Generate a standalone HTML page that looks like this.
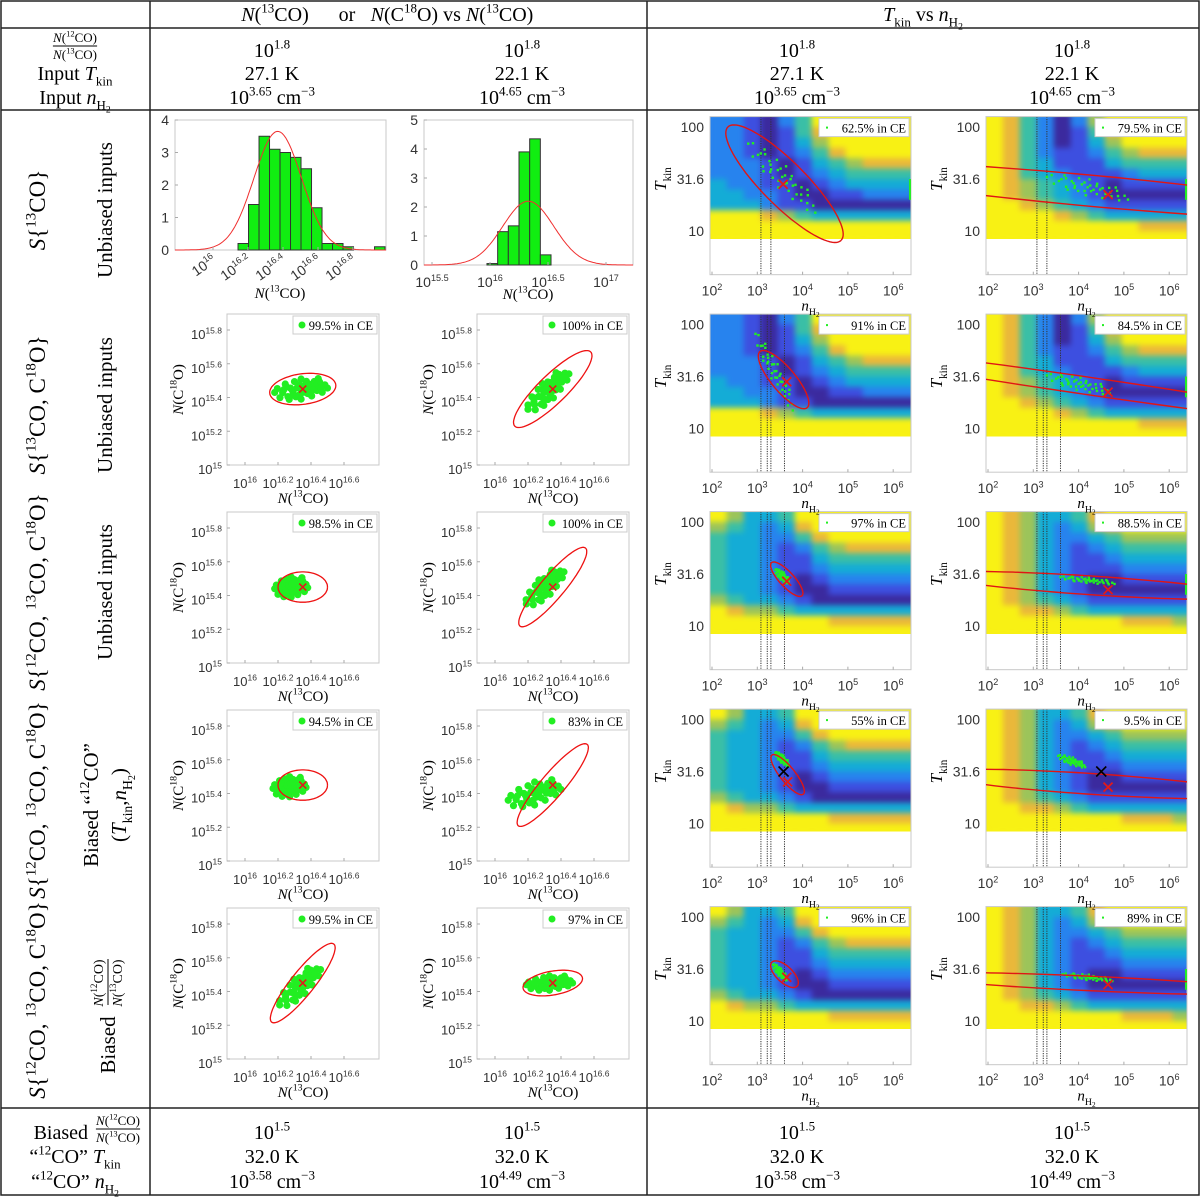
<!DOCTYPE html>
<html><head><meta charset="utf-8"><style>
html,body{margin:0;padding:0;background:#fff}
svg{display:block}
text{font-family:"Liberation Serif",serif;fill:#000}
.tk{font-family:"Liberation Sans",sans-serif;fill:#333}
</style></head><body>
<svg id="fig" width="1200" height="1197" viewBox="0 0 1200 1197" xmlns="http://www.w3.org/2000/svg">
<defs>
<filter id="smooth" x="0" y="0" width="1" height="1" color-interpolation-filters="sRGB">
<feGaussianBlur stdDeviation="3"/>
<feComponentTransfer><feFuncA type="discrete" tableValues="0 1 1 1"/></feComponentTransfer>
</filter>
</defs>
<g id="table" stroke="#222" stroke-width="1.5" fill="none">
<rect x="1" y="1" width="1198" height="1194"/>
<line x1="1" y1="28" x2="1199" y2="28"/>
<line x1="1" y1="110" x2="1199" y2="110"/>
<line x1="1" y1="1108" x2="1199" y2="1108"/>
<line x1="150" y1="1" x2="150" y2="1195"/>
<line x1="647" y1="1" x2="647" y2="1195"/>
</g>
</svg>
<script>
// ---------- data ----------
const inTop = ['1.8','1.8','1.8','1.8'];
const inT = ['27.1 K','22.1 K','27.1 K','22.1 K'];
const inN = ['3.65','4.65','3.65','4.65'];
const outR = ['1.5','1.5','1.5','1.5'];
const outT = ['32.0 K','32.0 K','32.0 K','32.0 K'];
const outN = ['3.58','4.49','3.58','4.49'];
const colCenters = [272,522,797,1072];

const hist1Bins = [0.2,1.4,3.5,3.1,3.0,2.85,2.5,1.3,0.2,0.2,0.1,0,0,0.1];
const hist1Start = 16.143, hist1Width = 0.06;
const hist1Fit = [3.65,16.37,0.136];
const hist2Bins = [0.05,1.15,1.35,3.9,4.35,0.35];
const hist2Start = 15.974, hist2Width = 0.092;
const hist2Fit = [2.2,16.33,0.22];
const hist1Ticks = [16,16.2,16.4,16.6,16.8];
const hist2Ticks = [15.5,16,16.5,17];

const scXTicks = [16,16.2,16.4,16.6];
const scYTicks = [15,15.2,15.4,15.6,15.8];
const baseOff = [[0,0],[0.3,0.1],[-0.4,0.2],[0.6,-0.3],[-0.7,-0.1],[0.2,0.6],[-0.2,-0.6],[0.9,0.1],[-0.9,0.3],[0.5,0.5],[-0.5,-0.5],[0.1,-0.3],[-0.1,0.4],[0.7,0.4],[-0.6,0.6],[0.4,-0.7],[-0.3,-0.2],[0.8,-0.5],[-0.8,-0.5],[0,0.85],[0,-0.85],[0.35,0.3],[-0.35,0.05],[0.55,0.05],[-0.15,0.15],[0.15,-0.1],[-0.55,0.35],[0.25,-0.45],[-0.25,0.7],[0.65,0.7],[-0.45,-0.75],[1,-0.2],[-1,0],[0.45,-0.2],[-0.05,-0.45],[0.05,0.25],[0.75,-0.1],[-0.65,0.15],[0.2,0.35],[-0.3,-0.4]];
const scLegend = [['99.5','100'],['98.5','100'],['94.5','83'],['99.5','97']];
const scCloudC = [[[16.34,15.45],[16.32,15.44]],[[16.28,15.45],[16.3,15.45]],[[16.27,15.44],[16.24,15.4]],[[16.33,15.43],[16.33,15.45]]];
const scCloudA = [[[0.16,0.02],[0.12,0.11]],[[0.1,0.01],[0.11,0.1]],[[0.1,0.01],[0.16,0.04]],[[0.12,0.11],[0.14,0.01]]];
const scCloudB = [[[0,0.07],[-0.04,0.05]],[[0,0.07],[-0.04,0.05]],[[0,0.07],[0,0.08]],[[-0.04,0.05],[0,0.05]]];
const scEllC = [16.35,15.45];
const scEllU = [[[0.2,0.025],[0.23,0.22]],[[0.15,0],[0.2,0.23]],[[0.15,0],[0.21,0.24]],[[0.19,0.23],[0.18,0.03]]];
const scEllV = [[[-0.01,0.09],[-0.06,0.06]],[[0,0.09],[-0.05,0.05]],[[0,0.09],[-0.05,0.05]],[[-0.05,0.05],[-0.01,0.07]]];

const hmXTicks = [2,3,4,5,6];
const hmYTicks = [[2,'100'],[1.5,'31.6'],[1,'10']];
const palette = ['#3b2a9e','#3d4fe0','#2783ee','#14acd6','#3abfa6','#9cc45a','#eab83a','#f8f114'];
const mapA = [[2,2,1,0,2,4,7,7,7,7,7,7],[2,2,1,0,1,4,6,7,7,7,7,7],[2,2,1,0,1,3,5,7,7,7,7,7],[2,2,1,0,1,2,4,6,7,7,7,7],[2,2,2,1,0,1,3,4,5,6,6,6],[2,2,2,1,0,1,2,3,4,4,4,4],[3,2,2,1,1,0,1,2,3,3,3,3],[3,3,2,2,1,0,0,1,1,2,2,2],[3,3,3,2,1,1,0,0,0,0,0,0],[7,7,7,6,5,4,3,3,3,3,3,3],[7,7,7,7,7,7,7,7,7,7,7,7],[7,7,7,7,7,7,7,7,7,7,7,7]];
const mapB = [[7,6,4,2,0,2,5,7,7,7,7,7],[7,6,4,2,0,1,4,6,7,7,7,7],[7,6,4,2,0,1,3,5,7,7,7,7],[7,6,4,2,1,1,2,4,5,6,6,6],[7,6,4,3,1,1,1,3,4,4,4,4],[7,6,4,3,2,1,1,1,2,3,3,3],[7,6,5,4,3,2,1,0,1,1,1,1],[7,6,5,4,3,2,1,0,0,0,0,0],[7,7,6,5,4,3,2,1,1,1,1,1],[7,7,7,7,6,5,4,3,3,3,3,3],[7,7,7,7,7,7,7,7,7,6,6,6],[7,7,7,7,7,7,7,7,7,7,7,7]];
const mapC = [[7,5,3,3,4,7,7,7,7,7,7,7],[5,4,3,2,3,6,7,7,7,7,7,7],[4,3,3,2,2,4,6,7,7,7,7,7],[4,3,3,2,1,2,4,5,6,6,6,6],[4,3,3,2,1,1,3,4,4,4,4,4],[4,3,3,2,1,1,2,3,3,3,3,3],[4,3,3,2,1,0,1,2,2,2,2,2],[4,3,3,2,1,0,0,1,1,1,1,1],[5,4,3,3,2,1,0,0,0,0,0,0],[7,6,5,5,4,3,3,3,3,3,3,3],[7,7,7,7,7,7,7,6,6,6,6,6],[7,7,7,7,7,7,7,7,7,7,7,7]];
const mapD = [[7,6,5,3,3,4,6,7,7,7,7,7],[7,6,5,3,2,3,5,6,7,7,7,7],[7,6,5,3,2,2,3,4,5,5,5,5],[7,6,5,3,2,1,2,3,4,4,4,4],[7,6,5,3,2,1,1,2,3,3,3,3],[7,6,5,3,2,1,1,1,2,2,2,2],[7,6,5,3,2,1,0,0,1,1,1,1],[7,6,5,3,2,1,0,0,0,0,0,0],[7,6,5,4,3,2,1,1,1,1,1,1],[7,7,6,6,5,4,3,3,3,3,3,3],[7,7,7,7,7,7,7,7,6,6,6,5],[7,7,7,7,7,7,7,7,7,7,7,7]];
const hmLegend = [['62.5','79.5'],['91','84.5'],['97','88.5'],['55','9.5'],['96','89']];
const hmVLines = [[3.08,3.3],[3.08,3.22,3.3,3.6],[3.08,3.22,3.3,3.6],[3.08,3.22,3.3,3.6],[3.08,3.22,3.3,3.6]];
const hmCloudC = [[[3.55,1.52],[4.2,1.42]],[[3.38,1.55],[4.0,1.43]],[[3.55,1.48],[4.2,1.44]],[[3.55,1.62],[3.85,1.6]],[[3.5,1.47],[4.2,1.42]]];
const hmCloudA = [[[0.75,-0.32],[0.9,-0.1]],[[0.42,-0.36],[0.7,-0.08]],[[0.15,-0.06],[0.6,-0.03]],[[0.15,-0.06],[0.3,-0.05]],[[0.15,-0.07],[0.55,-0.03]]];
const hmCloudB = [[[0.1,0.12],[0.05,0.09]],[[0.08,0.08],[0.05,0.07]],[[0.04,0.04],[0.03,0.03]],[[0.03,0.04],[0.03,0.04]],[[0.03,0.04],[0.03,0.03]]];
const hmEllC = [[[3.6,1.455],[4.2,1.39]],[[3.58,1.47],[4.2,1.41]],[[3.65,1.45],[4.3,1.39]],[[3.67,1.47],[4.3,1.38]],[[3.6,1.45],[4.3,1.36]]];
const hmEllU = [[[1.25,-0.545],[6,-0.24]],[[0.52,-0.27],[6,-0.38]],[[0.35,-0.15],[3.5,-0.1]],[[0.36,-0.18],[3.5,-0.1]],[[0.3,-0.1],[4,-0.08]]];
const hmEllV = [[[0.34,0.15],[0,0.15]],[[0.2,0.074],[0,0.085]],[[0.07,0.07],[0,0.09]],[[0.08,0.07],[0,0.1]],[[0.06,0.08],[0,0.07]]];
const hmRedX = [[[3.57,1.45],[4.65,1.35]],[[3.65,1.45],[4.65,1.35]],[[3.65,1.43],[4.65,1.35]],[[3.67,1.4],[4.65,1.35]],[[3.65,1.42],[4.65,1.35]]];
const hmBlackX = [null,null,null,[[3.58,1.5],[4.5,1.5]],null];
const hmGreenBar = [[true,true],[false,true],[false,true],[false,false],[false,true]];

// ---------- helpers ----------
const NS='http://www.w3.org/2000/svg';
const svg=document.getElementById('fig');
function mk(tag,attrs,parent){const e=document.createElementNS(NS,tag);for(const k in attrs)e.setAttribute(k,attrs[k]);(parent||svg).appendChild(e);return e;}
function rich(t,fs,parts){
  let cur=0;
  parts.forEach(([s,m])=>{
    const sp=document.createElementNS(NS,'tspan');
    let off=0,size=fs;
    if(m==='p'){off=-0.42*fs;size=0.65*fs;}
    else if(m==='b'){off=0.28*fs;size=0.65*fs;}
    else if(m==='bb'){off=0.42*fs;size=0.48*fs;}
    if(m==='i')sp.setAttribute('font-style','italic');
    sp.setAttribute('font-size',size.toFixed(1));
    const d=off-cur; if(d!==0)sp.setAttribute('dy',d.toFixed(1));
    cur=off; sp.textContent=s; t.appendChild(sp);
  });
  return t;
}
function txt(parent,x,y,fs,anchor,parts,extra){
  const a={x:x,y:y,'font-size':fs,'text-anchor':anchor||'middle'};
  for(const k in (extra||{}))a[k]=extra[k];
  return rich(mk('text',a,parent),fs,parts);
}
function rtxt(parent,x,y,fs,parts,extra){
  const a={transform:`translate(${x},${y}) rotate(-90)`,'font-size':fs,'text-anchor':'middle'};
  for(const k in (extra||{}))a[k]=extra[k];
  return rich(mk('text',a,parent),fs,parts);
}
const nH2=[['n','i'],['H','b'],['2','bb']];
const tKin=[['T','i'],['kin','b']];

// ---------- header ----------
const hd=mk('g',{});


txt(hd,275,21,20,'middle',[['N','i'],['(',''],['13','p'],['CO)','']]);
txt(hd,347,21,20,'middle',[['or','']]);
txt(hd,452,21,20,'middle',[['N','i'],['(C',''],['18','p'],['O) vs ',''],['N','i'],['(',''],['13','p'],['CO)','']]);
txt(hd,923,21,20,'middle',tKin.concat([[' vs ','']]).concat(nH2));

const hv=mk('g',{});


function ratioLabel(parent,x,y,fs){
  const g=mk('g',{},parent);
  txt(g,x,y,fs,'middle',[['N','i'],['(',''],['12','p'],['CO)','']]);
  mk('line',{x1:x-fs*1.7,y1:y+4,x2:x+fs*1.7,y2:y+4,stroke:'#000','stroke-width':'1'},g);
  txt(g,x,y+fs+4,fs,'middle',[['N','i'],['(',''],['13','p'],['CO)','']]);
  return g;
}
ratioLabel(hv,75,42,13);
txt(hv,75,80,20,'middle',[['Input ','']].concat(tKin));
txt(hv,75,104,20,'middle',[['Input ','']].concat(nH2));
for(let i=0;i<4;i++){
  const x=colCenters[i];
  txt(hv,x,57,20,'middle',[['10',''],[inTop[i],'p']]);
  txt(hv,x,80,20,'middle',[[inT[i],'']]);
  txt(hv,x,104,20,'middle',[['10',''],[inN[i],'p'],[' cm',''],['−3','p']]);
}
const fv=mk('g',{});


txt(fv,88,1139,20,'end',[['Biased','']]);
ratioLabel(fv,118,1125,13);
txt(fv,75,1163,20,'middle',[['“',''],['12','p'],['CO” ','']].concat(tKin));
txt(fv,75,1188,20,'middle',[['“',''],['12','p'],['CO” ','']].concat(nH2));
for(let i=0;i<4;i++){
  const x=colCenters[i];
  txt(fv,x,1139,20,'middle',[['10',''],[outR[i],'p']]);
  txt(fv,x,1163,20,'middle',[[outT[i],'']]);
  txt(fv,x,1188,20,'middle',[['10',''],[outN[i],'p'],[' cm',''],['−3','p']]);
}

// ---------- row labels ----------
const rl=mk('g',{});


const sSets=[['13CO'],['13CO','C18O'],['12CO','13CO','C18O'],['12CO','13CO','C18O'],['12CO','13CO','C18O']];
const sY=[210,405,592,800,1000];
sSets.forEach((set,r)=>{
  const parts=[['S','i'],['{','']];
  set.forEach((s,j)=>{ if(j)parts.push([', ','']);
    if(s==='C18O'){parts.push(['C',''],['18','p'],['O',''] );}
    else{parts.push([s.slice(0,2),'p'],['CO','']);}
  });
  parts.push(['}','']);
  rtxt(rl,45,sY[r],23,parts);
});
for(let r=0;r<3;r++)rtxt(rl,112,sY[r],21,[['Unbiased inputs','']]);
rtxt(rl,98,805,21,[['Biased “',''],['12','p'],['CO”','']]);
rtxt(rl,126,805,21,[['(','']].concat(tKin,[[',','']],nH2,[[')','']]));
{ const g=mk('g',{transform:'translate(108,1005) rotate(-90)'},rl);
  txt(g,-40,7,21,'middle',[['Biased','']]);
  txt(g,22,-5,14,'middle',[['N','i'],['(',''],['12','p'],['CO)','']]);
  mk('line',{x1:0,y1:0,x2:46,y2:0,stroke:'#000'},g);
  txt(g,22,14,14,'middle',[['N','i'],['(',''],['13','p'],['CO)','']]);
}

// ---------- axes helpers ----------
function frame(g,x0,y0,x1,y1){mk('rect',{x:x0,y:y0,width:x1-x0,height:y1-y0,fill:'none',stroke:'#c8c8c8','stroke-width':'1'},g);}
function n13Label(g,x,y,fs){return txt(g,x,y,fs,'middle',[['N','i'],['(',''],['13','p'],['CO)','']],{fill:'#444'});}
function pow(g,x,y,exp,anchor,fs){return txt(g,x,y,fs,anchor,[['10',''],[exp,'p']],{'class':'tk'});}
function ellPath(px,py,c,u,v){let d='';for(let k=0;k<=90;k++){const a=k/90*2*Math.PI;const X=c[0]+u[0]*Math.cos(a)+v[0]*Math.sin(a);const Y=c[1]+u[1]*Math.cos(a)+v[1]*Math.sin(a);d+=(k?'L':'M')+px(X).toFixed(1)+','+py(Y).toFixed(1);}return d;}
function cross(g,x,y,col,s,w){mk('path',{d:`M${x-s},${y-s}L${x+s},${y+s}M${x-s},${y+s}L${x+s},${y-s}`,stroke:col,'stroke-width':w,fill:'none'},g);}

// ---------- histograms ----------
function hist(name,bins,start,width,fit,ticks,X,Y,box,yMax,rotLab,labX){
  const g=mk('g',{});
  
  
  frame(g,box[0],box[1],box[2],box[3]);
  for(let v=0;v<=yMax;v++){const y=Y(v);mk('line',{x1:box[0],y1:y,x2:box[0]+3,y2:y,stroke:'#aaa'},g);txt(g,box[0]-6,y+5,14,'end',[[String(v),'']],{'class':'tk'});}
  bins.forEach((b,i)=>{ if(b<=0)return;
    const r=mk('rect',{x:X(start+i*width),y:Y(b),width:X(start+(i+1)*width)-X(start+i*width),height:Y(0)-Y(b),fill:'#11ee11',stroke:'#333','stroke-width':'1'},g);
    
    
  });
  let d='';for(let k=0;k<=120;k++){const xv=box[0]+(box[2]-box[0])*k/120;const lo=(xv-X(0))/(X(1)-X(0));const v=fit[0]*Math.exp(-0.5*Math.pow((lo-fit[1])/fit[2],2));d+=(k?'L':'M')+xv.toFixed(1)+','+Y(v).toFixed(1);}
  const p=mk('path',{d:d,fill:'none',stroke:'#f03030','stroke-width':'1'},g);
  
  
  ticks.forEach(tv=>{const x=X(tv);mk('line',{x1:x,y1:box[3],x2:x,y2:box[3]-3,stroke:'#aaa'},g);
    if(rotLab){const gg=mk('g',{transform:`translate(${x+4},${box[3]+12}) rotate(-35)`},g);pow(gg,0,0,String(tv),'end',14);}
    else{pow(g,x,box[3]+22,String(tv),'middle',14);}
  });
  n13Label(g,labX,box[3]+(rotLab?48:34),15);
}
hist('histogram-13co-a',hist1Bins,hist1Start,hist1Width,hist1Fit,hist1Ticks,v=>213+(v-16)*175,v=>250-v*32.5,[175,120,386,250],4,true,280);
hist('histogram-13co-b',hist2Bins,hist2Start,hist2Width,hist2Fit,hist2Ticks,v=>490+(v-16)*116,v=>265-v*29,[424,120,633,265],5,false,528);

// ---------- scatter panels ----------
for(let r=0;r<4;r++)for(let c=0;c<2;c++){
  const dy=198*r, dx=250*c;
  const X=v=>245+dx+(v-16)*165, Y=v=>465+dy-(v-15)*168.75;
  const box=[227+dx,314+dy,379+dx,465+dy];
  const g=mk('g',{});
  
  
  frame(g,box[0],box[1],box[2],box[3]);
  scXTicks.forEach(tv=>{const x=X(tv);mk('line',{x1:x,y1:box[3],x2:x,y2:box[3]-3,stroke:'#aaa'},g);pow(g,x,box[3]+23,String(tv),'middle',13);});
  scYTicks.forEach(tv=>{const y=Y(tv);mk('line',{x1:box[0],y1:y,x2:box[0]+3,y2:y,stroke:'#aaa'},g);pow(g,box[0]-5,y+9,String(tv),'end',13);});
  n13Label(g,(box[0]+box[2])/2,box[3]+38,15);
  rtxt(g,box[0]-44,(box[1]+box[3])/2,15,[['N','i'],['(C',''],['18','p'],['O)','']],{fill:'#444'});
  const cc=scCloudC[r][c],a=scCloudA[r][c],b=scCloudB[r][c];
  baseOff.forEach(o=>{
    const pt=mk('circle',{cx:X(cc[0]+a[0]*o[0]+b[0]*o[1]),cy:Y(cc[1]+a[1]*o[0]+b[1]*o[1]),r:3.6,fill:'#22ee22'},g);
    
    
  });
  const e=mk('path',{d:ellPath(X,Y,scEllC,scEllU[r][c],scEllV[r][c]),fill:'none',stroke:'#ee1111','stroke-width':'1.3'},g);
  
  
  cross(g,X(scEllC[0]),Y(scEllC[1]),'#e31a1a',3.5,1.6);
  const lg=mk('g',{},g);
  
  
  mk('rect',{x:box[2]-86,y:box[1]+2,width:84,height:18,fill:'#fff',stroke:'#ccc'},lg);
  mk('circle',{cx:box[2]-77,cy:box[1]+11,r:3.5,fill:'#22ee22'},lg);
  txt(lg,box[2]-6,box[1]+16,12.5,'end',[[scLegend[r][c]+'% in CE','']]);
}

// ---------- heatmap panels ----------
const topLayer=mk('g',{});


const maps=[[mapA,mapB],[mapA,mapB],[mapC,mapD],[mapC,mapD],[mapC,mapD]];
for(let r=0;r<5;r++)for(let c=0;c<2;c++){
  const dx=276*c, y10=231+197.5*r;
  const X=v=>712+dx+(v-2)*45.3, Y=v=>y10-(v-1)*104;
  const box=[710+dx,Y(2.1),911+dx,Y(0.58)];
  const g=mk('g',{});
  
  
  const id='clp'+r+c;
  const cp=mk('clipPath',{id:id},g);mk('rect',{x:box[0],y:box[1],width:box[2]-box[0],height:box[3]-box[1]},cp);
  const outer=mk('g',{'clip-path':`url(#${id})`},g);
  const hm=mk('g',{filter:'url(#smooth)'},outer);
  
  
  const M=maps[r][c];
  const nCols=M[0].length, step=(6.45-1.95)/nCols;
  M.forEach((row,i)=>{const tTop=2.15-0.1*i-(i?0.05:0), tBot=Math.max(0.93,2.1-0.1*(i+1));
    row.forEach((lv,j)=>{
      const x0=X(1.95+j*step),x1=X(1.95+(j+1)*step);
      const cell=mk('rect',{x:x0.toFixed(1),y:Y(tTop).toFixed(1),width:(x1-x0+0.6).toFixed(1),height:(Y(tBot)-Y(tTop)+0.6).toFixed(1),fill:palette[lv]},hm);
      
      
    });
  });
  hmVLines[r].forEach(v=>{mk('line',{x1:X(v),y1:box[1],x2:X(v),y2:box[3],stroke:'#333','stroke-width':'1','stroke-dasharray':'1.2,1.2'},g);});
  frame(g,box[0],box[1],box[2],box[3]);
  hmXTicks.forEach(tv=>{const x=X(tv);mk('line',{x1:x,y1:box[3],x2:x,y2:box[3]-3,stroke:'#aaa'},g);pow(g,x,box[3]+21,String(tv),'middle',14);});
  hmYTicks.forEach(tk=>{txt(g,box[0]-6,Y(tk[0])+5,14,'end',[[tk[1],'']],{'class':'tk'});});
  txt(topLayer,(box[0]+box[2])/2,box[3]+36,15,'middle',nH2,{fill:'#444'});
  rtxt(g,box[0]-44,Y(1.5),17,tKin,{fill:'#444'});
  const pts=mk('g',{'clip-path':`url(#${id})`},g);
  const cc=hmCloudC[r][c],a=hmCloudA[r][c],b=hmCloudB[r][c];
  baseOff.forEach(o=>{
    const pt=mk('rect',{x:X(cc[0]+a[0]*o[0]+b[0]*o[1])-1.2,y:Y(cc[1]+a[1]*o[0]+b[1]*o[1])-1.2,width:2.4,height:2.4,fill:'#22ee22'},pts);
    
    
  });
  if(hmGreenBar[r][c]){const gb=mk('line',{x1:X(6.37),y1:Y(1.3),x2:X(6.37),y2:Y(1.5),stroke:'#22ee22','stroke-width':'2'},pts);
    
    }
  const e=mk('path',{d:ellPath(X,Y,hmEllC[r][c],hmEllU[r][c],hmEllV[r][c]),fill:'none',stroke:'#e01515','stroke-width':'1.4'},pts);
  
  
  const rx=hmRedX[r][c];cross(g,X(rx[0]),Y(rx[1]),'#e31a1a',4.5,1.8);
  if(hmBlackX[r]){const bx=hmBlackX[r][c];cross(g,X(bx[0]),Y(bx[1]),'#000',5,1.6);}
  const lg=mk('g',{},g);
  
  
  mk('rect',{x:box[2]-92,y:box[1]+2,width:90,height:18,fill:'#fff',stroke:'#ccc'},lg);
  mk('rect',{x:box[2]-85,y:box[1]+10,width:2,height:2,fill:'#22ee22'},lg);
  txt(lg,box[2]-5,box[1]+16,12.5,'end',[[hmLegend[r][c]+'% in CE','']]);
}
svg.appendChild(topLayer);
</script>
</body></html>
